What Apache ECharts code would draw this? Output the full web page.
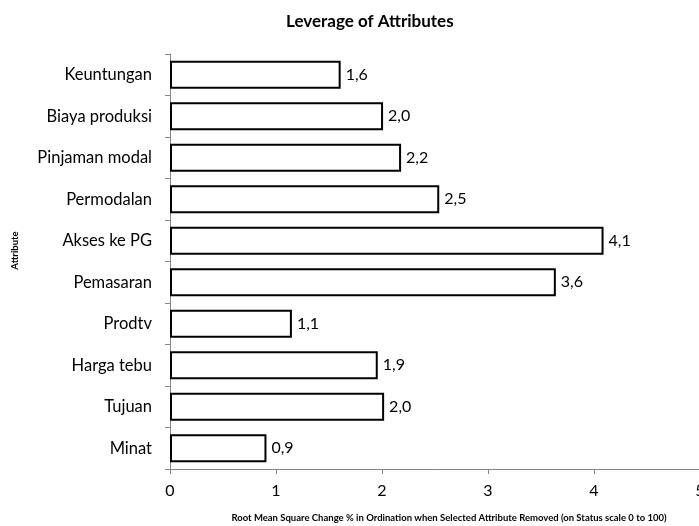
<!DOCTYPE html>
<html>
<head>
<meta charset="utf-8">
<script src="https://cdn.jsdelivr.net/npm/echarts@6/dist/echarts.min.js"></script>
<style>
  html, body { margin: 0; padding: 0; background: #fff; }
  #chart { width: 699px; height: 526px; }
</style>
</head>
<body>
<div id="chart"></div>
<script>
// attributes, top to bottom
var attributes = ['Keuntungan', 'Biaya produksi', 'Pinjaman modal', 'Permodalan', 'Akses ke PG',
  'Pemasaran', 'Prodtv', 'Harga tebu', 'Tujuan', 'Minat'];
var leverage = [1.61, 2.01, 2.18, 2.54, 4.09, 3.64, 1.15, 1.96, 2.02, 0.91];
var leverageLabels = ['1,6', '2,0', '2,2', '2,5', '4,1', '3,6', '1,1', '1,9', '2,0', '0,9'];
var xTicks = [0, 1, 2, 3, 4, 5];

var font = 'Lato, "Open Sans", sans-serif';
var chart = echarts.init(document.getElementById('chart'));

chart.setOption({
  animation: false,
  title: {
    text: 'Leverage of Attributes',
    left: 281,
    top: 8,
    textStyle: { fontFamily: font, fontSize: 17, fontWeight: 'bold', color: '#000' }
  },
  grid: { left: 170, right: -1, top: 54, bottom: 57, containLabel: false, outerBoundsMode: 'none' },
  xAxis: {
    type: 'value',
    min: xTicks[0],
    max: xTicks[xTicks.length - 1],
    interval: 1,
    name: 'Root Mean Square Change % in Ordination when Selected Attribute Removed (on Status scale 0 to 100)',
    nameLocation: 'middle',
    nameGap: 44,
    nameTextStyle: { fontFamily: font, fontSize: 9.5, fontWeight: 'bold', color: '#000', padding: [0, 0, 0, 28] },
    axisLine: { show: true, lineStyle: { color: '#868686', width: 1 } },
    axisTick: { show: true, length: 5, lineStyle: { color: '#868686' } },
    axisLabel: { fontFamily: font, fontSize: 16, color: '#000', margin: 14 },
    splitLine: { show: false }
  },
  yAxis: {
    type: 'category',
    data: attributes,
    inverse: true,
    name: 'Attribute',
    nameLocation: 'middle',
    nameGap: 150,
    nameRotate: 90,
    nameTextStyle: { fontFamily: font, fontSize: 9.5, fontWeight: 'bold', color: '#000', padding: [0, 0, 0, 22] },
    axisLine: { show: true, lineStyle: { color: '#868686', width: 1 } },
    axisTick: { show: true, length: 5, alignWithLabel: false, lineStyle: { color: '#868686' } },
    axisLabel: { fontFamily: font, fontSize: 16.5, color: '#000', margin: 18 }
  },
  series: [{
    type: 'bar',
    data: leverage,
    barCategoryGap: '33%',
    itemStyle: { color: '#fff', borderColor: '#000', borderWidth: 2 },
    label: {
      show: true,
      position: 'right',
      distance: 5,
      fontFamily: font,
      fontSize: 16,
      color: '#000',
      formatter: function (p) { return leverageLabels[p.dataIndex]; }
    }
  }]
});
</script>
</body>
</html>
